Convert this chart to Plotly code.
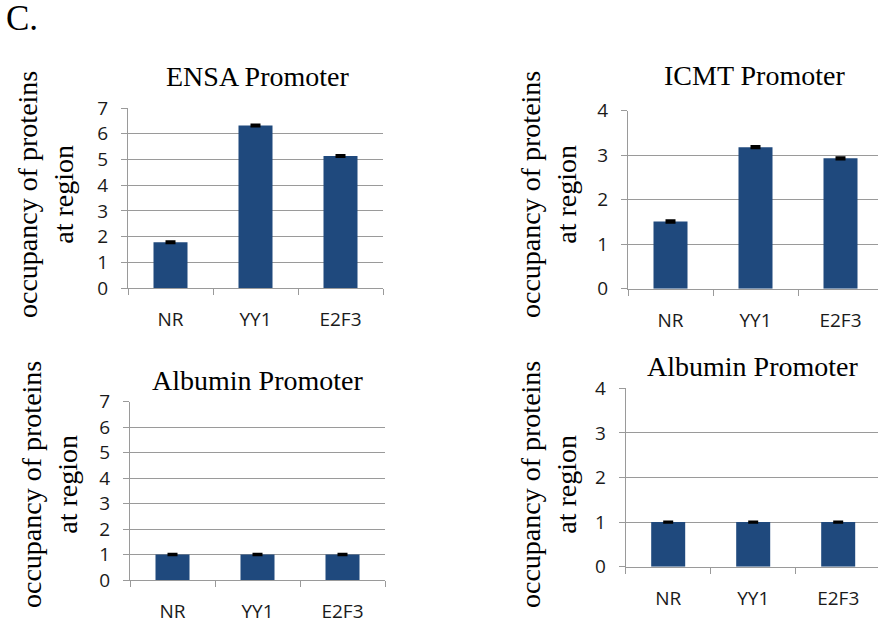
import plotly.graph_objects as go

W, H = 878, 623

categories = ["NR", "YY1", "E2F3"]
ensa_values = [1.78, 6.32, 5.13]
ensa_err = [0.03, 0.03, 0.03]
icmt_values = [1.51, 3.18, 2.93]
icmt_err = [0.02, 0.02, 0.02]
alb_left_values = [1.0, 1.0, 1.0]
alb_left_err = [0.02, 0.02, 0.02]
alb_right_values = [1.0, 1.0, 1.0]
alb_right_err = [0.01, 0.01, 0.01]
panel_titles = ["ENSA Promoter", "ICMT Promoter", "Albumin Promoter", "Albumin Promoter"]
y_title = "occupancy of proteins<br>at region"

BAR = "#1f497d"
GRID = "#9a9a9a"
TICKFONT = dict(family="Open Sans", size=19, color="#1a1a1a")
SERIF = "Liberation Serif"


def px(x):
    return x / W


def py(y):
    return 1 - y / H


panels = [
    dict(vals=ensa_values, err=ensa_err, l=128, r=383, t=108, b=288, ymax=7,
         xr=[-0.5, 2.5], title=(257, 77), ytitle=(45, 195)),
    dict(vals=icmt_values, err=icmt_err, l=628, r=878, t=110.7, b=288.7, ymax=4,
         xr=[-0.5, -0.5 + 250 / 85], title=(754, 75), ytitle=(548, 195)),
    dict(vals=alb_left_values, err=alb_left_err, l=130, r=385, t=401.7, b=580, ymax=7,
         xr=[-0.5, 2.5], title=(257.5, 380), ytitle=(49, 485)),
    dict(vals=alb_right_values, err=alb_right_err, l=625.7, r=878, t=388.3, b=566.7, ymax=4,
         xr=[-0.5, -0.5 + (878 - 625.7) / 85], title=(752.5, 367), ytitle=(548, 485)),
]

fig = go.Figure()
annotations = []
layout = {}
for i, p in enumerate(panels, start=1):
    xa = "x" if i == 1 else f"x{i}"
    ya = "y" if i == 1 else f"y{i}"
    fig.add_trace(go.Bar(
        x=categories, y=p["vals"], xaxis=xa, yaxis=ya,
        width=0.4, marker=dict(color=BAR, line=dict(width=0)),
        error_y=dict(type="data", array=p["err"], visible=True,
                     color="black", thickness=2.5, width=5),
        showlegend=False, hoverinfo="skip",
    ))
    xkey = "xaxis" if i == 1 else f"xaxis{i}"
    ykey = "yaxis" if i == 1 else f"yaxis{i}"
    layout[xkey] = dict(
        domain=[px(p["l"]), px(p["r"])], anchor=ya, type="category",
        range=p["xr"], showline=True, linecolor=GRID, linewidth=1.3,
        ticks="outside", tickson="boundaries", ticklen=6, tickcolor=GRID,
        tickwidth=1.3, showgrid=False, tickfont=TICKFONT, ticklabelstandoff=14,
        fixedrange=True, automargin=False,
    )
    layout[ykey] = dict(
        domain=[py(p["b"]), py(p["t"])], anchor=xa, range=[0, p["ymax"]],
        dtick=1, showline=True, linecolor=GRID, linewidth=1.3,
        showgrid=True, gridcolor=GRID, gridwidth=1.3, zeroline=False,
        ticks="outside", ticklen=6, tickcolor=GRID, tickwidth=1.3,
        tickfont=TICKFONT, ticklabelstandoff=9, fixedrange=True, automargin=False,
    )
    tx, ty = p["title"]
    annotations.append(dict(
        text=panel_titles[i - 1], x=px(tx), y=py(ty), xref="paper", yref="paper",
        xanchor="center", yanchor="middle", showarrow=False,
        font=dict(family=SERIF, size=28, color="black"),
    ))
    yx, yy = p["ytitle"]
    annotations.append(dict(
        text=y_title, x=px(yx), y=py(yy), xref="paper", yref="paper",
        xanchor="center", yanchor="middle", showarrow=False, textangle=-90,
        font=dict(family=SERIF, size=28, color="black"),
    ))

annotations.append(dict(
    text="C.", x=px(22), y=py(18), xref="paper", yref="paper",
    xanchor="center", yanchor="middle", showarrow=False,
    font=dict(family=SERIF, size=35, color="black"),
))

fig.update_layout(
    width=W, height=H, margin=dict(l=0, r=0, t=0, b=0, autoexpand=False),
    paper_bgcolor="white", plot_bgcolor="white",
    annotations=annotations, bargap=0.6, **layout,
)

fig.write_html(
    "out.html",
    config={"displayModeBar": False},
    post_script="document.body.style.margin='0';document.body.style.padding='0';",
)
